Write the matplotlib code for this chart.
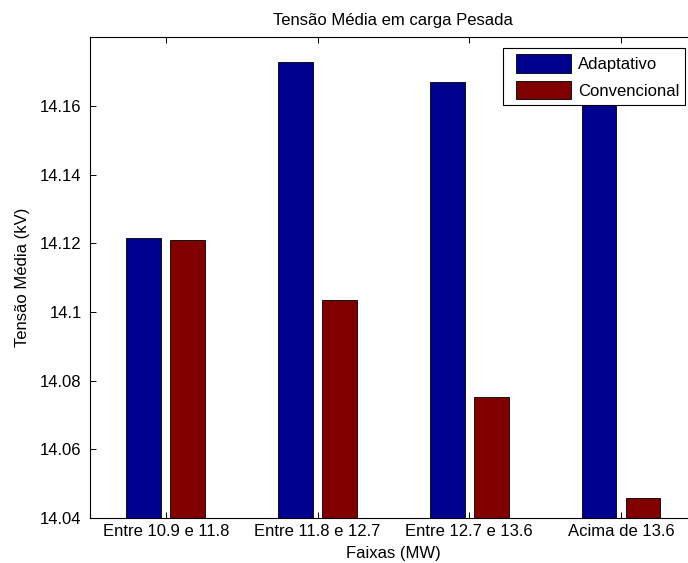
# -*- coding: utf-8 -*-
#modulos
import numpy as np
import matplotlib
matplotlib.use('Agg')
import matplotlib.pyplot as plt
from matplotlib.ticker import FormatStrFormatter
from matplotlib.legend_handler import HandlerPatch
from matplotlib.patches import Rectangle

#fonte parecida com Helvetica
plt.rcParams['font.family'] = ['Liberation Sans', 'DejaVu Sans']
plt.rcParams['font.size'] = 12

#dados
faixas = ['Entre 10.9 e 11.8', 'Entre 11.8 e 12.7', 'Entre 12.7 e 13.6', 'Acima de 13.6']
adaptativo = [14.1214, 14.1729, 14.1671, 14.1650]
convencional = [14.1210, 14.1036, 14.0751, 14.0458]

x = np.arange(1, len(faixas) + 1)
largura = 0.23
desloc = 0.145

#figura e eixos (o eixo passa um pouco da borda direita, como no original)
fig = plt.figure(figsize=(6.88, 5.63), dpi=100)
ax = fig.add_axes([0.1308, 0.0799, 0.882, 0.854])

b1 = ax.bar(x - desloc, adaptativo, largura, color='#00008F', edgecolor='black',
            linewidth=0.6, zorder=2)
b2 = ax.bar(x + desloc, convencional, largura, color='#800000', edgecolor='black',
            linewidth=0.6, zorder=2)

#limites e ticks estilo MATLAB
ax.set_xlim(0.5, 4.5)
ax.set_ylim(14.04, 14.18)
ax.set_xticks(x)
ax.set_xticklabels(faixas)
ax.set_yticks(np.arange(14.04, 14.161, 0.02))
ax.yaxis.set_major_formatter(FormatStrFormatter('%g'))
ax.tick_params(direction='in', length=4, width=0.7, top=True, right=True)
ax.tick_params(axis='y', pad=6)
ax.tick_params(axis='x', pad=4)
for s in ax.spines.values():
    s.set_linewidth(0.8)

#titulos
ax.set_title('Tensão Média em carga Pesada', fontsize=12, pad=9)
ax.set_xlabel('Faixas (MW)', labelpad=5)
ax.set_ylabel('Tensão Média (kV)', labelpad=7)

#retangulo da legenda com um recuo a esquerda (igual ao MATLAB)
def ret_legenda(legend, orig_handle, xdescent, ydescent, width, height, fontsize):
    return Rectangle((-xdescent + 5, -ydescent), width - 5, height)

#legenda
leg = fig.legend([b1.patches[0], b2.patches[0]], ['Adaptativo', 'Convencional'],
                 loc='upper left', bbox_to_anchor=(503 / 688, 1 - 48 / 563),
                 fancybox=False, framealpha=1, edgecolor='black',
                 handlelength=3.7, handleheight=1.3, handletextpad=0.4,
                 labelspacing=0.5, borderpad=0.38, borderaxespad=0,
                 handler_map={Rectangle: HandlerPatch(patch_func=ret_legenda)})
leg.get_frame().set_linewidth(0.8)

fig.savefig('out.png', dpi=100)
